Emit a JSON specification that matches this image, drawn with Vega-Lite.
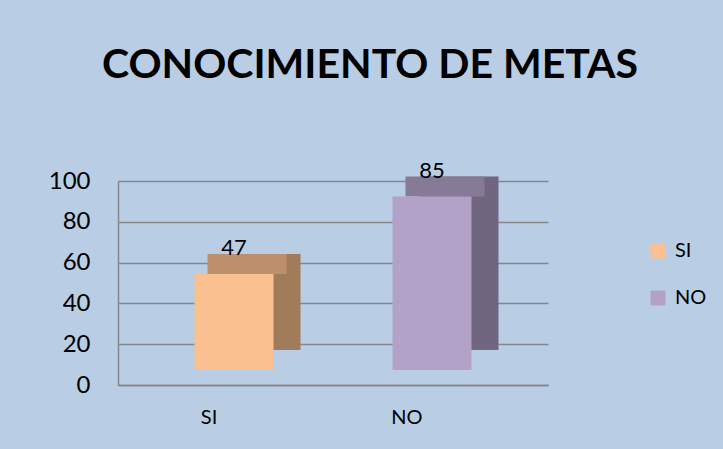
{
  "$schema": "https://vega.github.io/schema/vega-lite/v6.json",
  "autosize": {"type": "none"},
  "width": 430,
  "height": 204,
  "padding": {"left": 118, "top": 181, "right": 175, "bottom": 64},
  "background": "#B9CDE5",
  "config": {
    "view": {"stroke": null},
    "font": "Lato"
  },
  "title": {
    "text": "CONOCIMIENTO DE METAS",
    "font": "Lato",
    "fontSize": 41,
    "fontWeight": "bold",
    "color": "#000000",
    "anchor": "middle",
    "offset": 73,
    "dx": 37
  },
  "data": {
    "values": [
      {"respuesta": "SI", "valor": 47},
      {"respuesta": "NO", "valor": 85}
    ]
  },
  "encoding": {
    "x": {
      "field": "respuesta",
      "type": "nominal",
      "sort": ["SI", "NO"],
      "scale": {"paddingInner": 0, "paddingOuter": 0.086},
      "axis": {
        "title": null,
        "labelAngle": 0,
        "labelFontSize": 20,
        "labelColor": "#000000",
        "labelOffset": -25,
        "labelPadding": 22,
        "ticks": false,
        "domainColor": "#868686",
        "domainWidth": 1.5
      }
    },
    "y": {
      "field": "valor",
      "type": "quantitative",
      "scale": {"domain": [0, 100]},
      "axis": {
        "title": null,
        "values": [0, 20, 40, 60, 80, 100],
        "labelFontSize": 24,
        "labelColor": "#000000",
        "labelPadding": 28,
        "ticks": false,
        "domainColor": "#868686",
        "domainWidth": 1.5,
        "gridColor": "#868686",
        "gridWidth": 1.5
      }
    }
  },
  "layer": [
    {
      "mark": {"type": "bar", "width": 79, "xOffset": 27, "yOffset": -35},
      "encoding": {
        "color": {
          "field": "respuesta",
          "type": "nominal",
          "scale": {"domain": ["SI", "NO"], "range": ["#A07C5A", "#716680"]},
          "legend": null
        }
      }
    },
    {
      "mark": {"type": "bar", "width": 79, "xOffset": 13, "yOffset": -35, "y2Offset": -15},
      "encoding": {
        "y2": {"field": "valor"},
        "color": {
          "field": "respuesta",
          "type": "nominal",
          "scale": {"domain": ["SI", "NO"], "range": ["#BD8F6D", "#877A96"]},
          "legend": null
        }
      }
    },
    {
      "mark": {"type": "bar", "width": 79, "yOffset": -15},
      "encoding": {
        "color": {
          "field": "respuesta",
          "type": "nominal",
          "scale": {"domain": ["SI", "NO"], "range": ["#FAC090", "#B3A2C7"]},
          "legend": {
            "title": null,
            "orient": "none",
            "legendX": 530,
            "legendY": 60,
            "symbolType": "square",
            "symbolSize": 225,
            "symbolStrokeWidth": 0,
            "labelFontSize": 20,
            "labelColor": "#000000",
            "rowPadding": 27,
            "labelOffset": 7
          }
        }
      }
    },
    {
      "mark": {"type": "text", "fontSize": 22, "color": "#000000", "dy": -34, "baseline": "alphabetic"},
      "encoding": {
        "text": {"field": "valor", "type": "quantitative"}
      }
    }
  ],
  "resolve": {"scale": {"color": "independent"}}
}
